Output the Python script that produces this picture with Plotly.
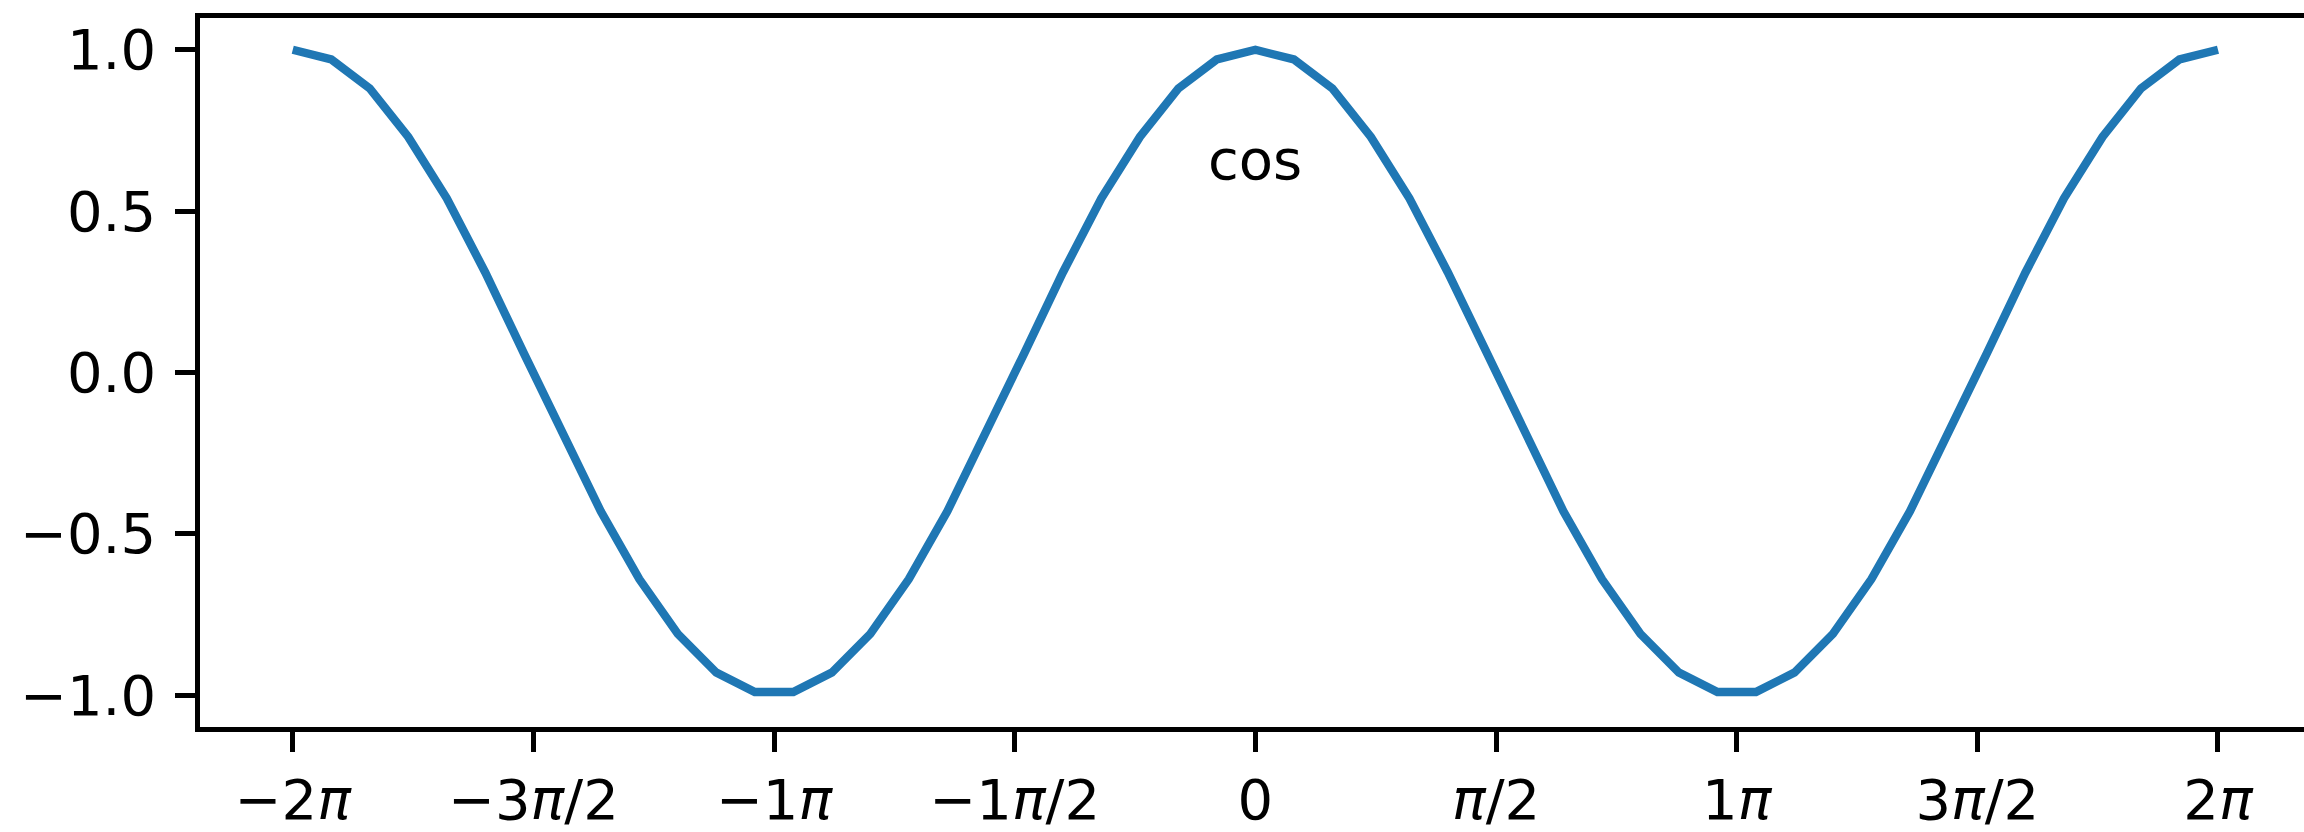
import plotly.graph_objects as go

# Sample positions, in multiples of pi
x_over_pi = [-2.00, -1.92, -1.84, -1.76, -1.68, -1.60, -1.52, -1.44, -1.36, -1.28,
             -1.20, -1.12, -1.04, -0.96, -0.88, -0.80, -0.72, -0.64, -0.56, -0.48,
             -0.40, -0.32, -0.24, -0.16, -0.08, 0.00, 0.08, 0.16, 0.24, 0.32,
             0.40, 0.48, 0.56, 0.64, 0.72, 0.80, 0.88, 0.96, 1.04, 1.12,
             1.20, 1.28, 1.36, 1.44, 1.52, 1.60, 1.68, 1.76, 1.84, 1.92, 2.00]

cos_values = [1.00, 0.97, 0.88, 0.73, 0.54, 0.31, 0.06, -0.19, -0.43, -0.64,
              -0.81, -0.93, -0.99, -0.99, -0.93, -0.81, -0.64, -0.43, -0.19, 0.06,
              0.31, 0.54, 0.73, 0.88, 0.97, 1.00, 0.97, 0.88, 0.73, 0.54,
              0.31, 0.06, -0.19, -0.43, -0.64, -0.81, -0.93, -0.99, -0.99, -0.93,
              -0.81, -0.64, -0.43, -0.19, 0.06, 0.31, 0.54, 0.73, 0.88, 0.97, 1.00]

x_tick_vals = [-2.0, -1.5, -1.0, -0.5, 0.0, 0.5, 1.0, 1.5, 2.0]
x_tick_text = ["\u22122<i>\u03c0</i>", "\u22123<i>\u03c0</i>/2", "\u22121<i>\u03c0</i>",
               "\u22121<i>\u03c0</i>/2", "0", "<i>\u03c0</i>/2", "1<i>\u03c0</i>",
               "3<i>\u03c0</i>/2", "2<i>\u03c0</i>"]
y_tick_vals = [-1.0, -0.5, 0.0, 0.5, 1.0]
y_tick_text = ["\u22121.0", "\u22120.5", "0.0", "0.5", "1.0"]

FONT = "DejaVu Sans"
SPINE_W = 4.5

fig = go.Figure()
fig.add_trace(go.Scatter(
    x=x_over_pi, y=cos_values, mode="lines",
    line=dict(color="#1f77b4", width=8.4),
    showlegend=False, hoverinfo="skip",
))

fig.add_annotation(
    x=0, y=0.66, xref="x", yref="y", text="cos", showarrow=False,
    xanchor="center", yanchor="middle",
    font=dict(family=FONT, size=56, color="black"),
)

fig.update_layout(
    width=2304, height=832,
    margin=dict(l=200, r=0, t=18, b=101),
    paper_bgcolor="white", plot_bgcolor="white",
    font=dict(family=FONT, size=56, color="black"),
)
fig.update_xaxes(
    range=[-2.1927, 2.1787], tickmode="array",
    tickvals=x_tick_vals, ticktext=x_tick_text,
    showgrid=False, zeroline=False,
    showline=True, linecolor="black", linewidth=SPINE_W, mirror=True,
    ticks="outside", ticklen=20, tickwidth=SPINE_W, tickcolor="black",
    tickfont=dict(family=FONT, size=56, color="black"),
)
fig.update_yaxes(
    range=[-1.0985, 1.0985], tickmode="array",
    tickvals=y_tick_vals, ticktext=y_tick_text,
    showgrid=False, zeroline=False,
    showline=True, linecolor="black", linewidth=SPINE_W, mirror=False,
    ticks="outside", ticklen=20, tickwidth=SPINE_W, tickcolor="black",
    ticklabelstandoff=8,
    tickfont=dict(family=FONT, size=56, color="black"),
)

fig.write_html("out.html")
